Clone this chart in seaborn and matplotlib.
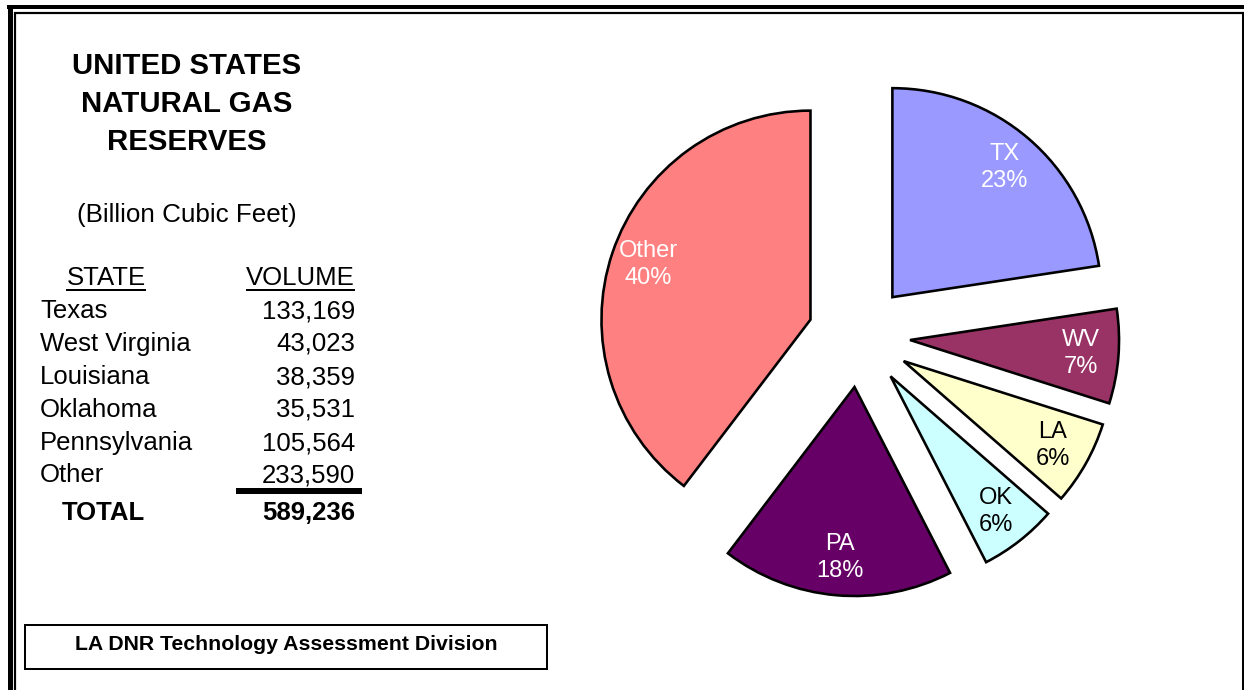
import matplotlib
matplotlib.use("Agg")
import matplotlib.pyplot as plt
import seaborn as sns
from matplotlib.lines import Line2D
from matplotlib.patches import Rectangle

# ---- data ----
states = ["Texas", "West Virginia", "Louisiana", "Oklahoma", "Pennsylvania", "Other"]
volumes = [133169, 43023, 38359, 35531, 105564, 233590]
volume_labels = ["133,169", "43,023", "38,359", "35,531", "105,564", "233,590"]
total_label = "589,236"
abbrevs = ["TX", "WV", "LA", "OK", "PA", "Other"]
pct_labels = ["23%", "7%", "6%", "6%", "18%", "40%"]
slice_colors = ["#9999FF", "#993366", "#FFFFCC", "#CCFFFF", "#660066", "#FF8080"]
text_colors = ["white", "white", "black", "black", "white", "white"]

sns.set_theme(style="white")
plt.rcParams["font.family"] = ["Liberation Sans", "DejaVu Sans"]

W, H = 1244, 690
fig = plt.figure(figsize=(W / 100, H / 100), dpi=100)
fig.patch.set_facecolor("white")

PX = 0.72  # points per pixel at dpi 100

# background overlay axes in pixel coords (y downward)
bg = fig.add_axes([0, 0, 1, 1])
bg.set_xlim(0, W)
bg.set_ylim(H, 0)
bg.axis("off")

# double frame
bg.add_line(Line2D([9.5, 9.5], [5, 720], color="black", lw=5 * PX, solid_capstyle="butt"))
bg.add_line(Line2D([7, 1260], [7, 7], color="black", lw=4 * PX, solid_capstyle="butt"))
bg.add_line(Line2D([15, 15], [12, 720], color="black", lw=2.2 * PX, solid_capstyle="butt"))
bg.add_line(Line2D([14, 1260], [13, 13], color="black", lw=2.2 * PX, solid_capstyle="butt"))
bg.add_line(Line2D([1242.5, 1242.5], [12, 720], color="black", lw=2 * PX, solid_capstyle="butt"))

# title
for txt, y in zip(["UNITED STATES", "NATURAL GAS", "RESERVES"], [66, 104, 142]):
    bg.text(187, y, txt, ha="center", va="center", fontsize=21.2, fontweight="bold", color="black")
bg.text(187, 215, "(Billion Cubic Feet)", ha="center", va="center", fontsize=18.7, color="black")

tfs = 18.5
h_state = bg.text(106, 278, "STATE", ha="center", va="center", fontsize=tfs, color="black")
h_vol = bg.text(355, 278, "VOLUME", ha="right", va="center", fontsize=tfs, color="black")
row_y = [311, 344, 377, 410, 443, 475]
for s, v, y in zip(states, volume_labels, row_y):
    bg.text(40, y, s, ha="left", va="center", fontsize=tfs, color="black")
    bg.text(355, y, v, ha="right", va="center", fontsize=tfs, color="black")
bg.text(62, 513, "TOTAL", ha="left", va="center", fontsize=tfs, fontweight="bold", color="black")
bg.text(355, 513, total_label, ha="right", va="center", fontsize=tfs, fontweight="bold", color="black")
bg.add_line(Line2D([236, 362], [491, 491], color="black", lw=6 * PX, solid_capstyle="butt"))

# underlines for headers, from text extents
fig.canvas.draw()
inv = bg.transData.inverted()
for t in (h_state, h_vol):
    bb = t.get_window_extent()
    (x0, _), (x1, _) = inv.transform([(bb.x0, bb.y0), (bb.x1, bb.y0)])
    bg.add_line(Line2D([x0, x1], [290, 290], color="black", lw=2 * PX, solid_capstyle="butt"))

# credit box
bg.add_patch(Rectangle((25, 625), 522, 44, fill=False, edgecolor="black", lw=2 * PX))
bg.text(286, 644, "LA DNR Technology Assessment Division", ha="center", va="center",
        fontsize=15.3, fontweight="bold", color="black")

# pie
cx, cy, R, half = 859, 336, 209, 300
pax = fig.add_axes([(cx - half) / W, (H - cy - half) / H, 2 * half / W, 2 * half / H])
wedges, _, autotexts = pax.pie(
    volumes, colors=slice_colors, startangle=90, counterclock=False,
    explode=[0.245] * len(volumes), autopct=lambda p: "", pctdistance=0.82,
    wedgeprops=dict(edgecolor="black", linewidth=2.6 * PX),
    textprops=dict(fontsize=17),
)
for t, ab, pl, tc in zip(autotexts, abbrevs, pct_labels, text_colors):
    t.set_text(f"{ab}\n{pl}")
    t.set_color(tc)
    t.set_linespacing(1.3)
lim = half / R
pax.set_xlim(-lim, lim)
pax.set_ylim(-lim, lim)
pax.set_aspect("equal")
pax.axis("off")

fig.savefig("out.png", dpi=100, facecolor="white")
